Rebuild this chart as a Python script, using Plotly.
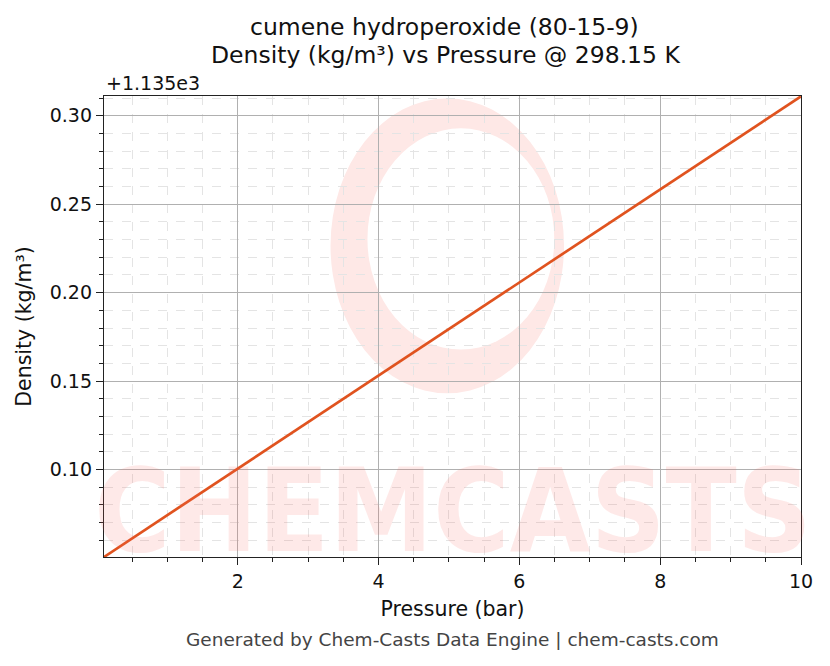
import plotly.graph_objects as go

# datos (densidad en kg/m3)
pressure_bar = [0.1, 2, 4, 6, 8, 10]
density = [1135.0505, 1135.1005, 1135.1530, 1135.2055, 1135.2580, 1135.3110]
offset = 1135.0
y_ticks = [0.10, 0.15, 0.20, 0.25, 0.30]
x_ticks = [2, 4, 6, 8, 10]

dens_rel = [d - offset for d in density]

fig = go.Figure()

# marca de agua (logo en forma de anillo + texto)
fig.add_shape(type="circle", xref="paper", yref="paper",
              x0=0.325, x1=0.66, y0=0.355, y1=0.995,
              line=dict(width=0), fillcolor="#fee8e6", layer="below")
fig.add_shape(type="circle", xref="paper", yref="paper",
              x0=0.378, x1=0.646, y0=0.45, y1=0.93,
              line=dict(width=0), fillcolor="white", layer="below")
fig.add_annotation(text="<b>CHEMCASTS</b>", xref="paper", yref="paper",
                   x=0.5, y=-0.05, showarrow=False,
                   font=dict(family="DejaVu Sans Condensed, DejaVu Sans", size=116,
                             color="rgba(250,100,90,0.14)"))

fig.add_trace(go.Scatter(
    x=pressure_bar,
    y=dens_rel,
    mode='lines',
    line=dict(color='#e0531f', width=2.7),
    showlegend=False
))

grid_minor = dict(showgrid=True, gridcolor='#e4e4e4', griddash='dash', gridwidth=0.5,
                  ticks='outside', ticklen=4, tickwidth=1.2, tickcolor='#222')

fig.update_layout(
    width=822, height=658,
    paper_bgcolor='white', plot_bgcolor='white',
    margin=dict(l=96, r=29, t=88, b=109),
    font=dict(family='DejaVu Sans', size=19, color='#111'),
    xaxis=dict(
        range=[0.1, 10], tickvals=x_ticks, ticks='outside', ticklen=7, tickwidth=1.3,
        tickcolor='#222', tickfont=dict(size=19),
        showline=True, linecolor='#222', linewidth=1.4, mirror=True,
        showgrid=True, gridcolor='#b0b0b0', gridwidth=0.8, zeroline=False,
        title=dict(text='Pressure (bar)', standoff=10, font=dict(size=20.5)),
        minor=dict(dtick=0.5, tick0=0, **grid_minor),
    ),
    yaxis=dict(
        range=[0.0505, 0.3112], tickvals=y_ticks, tickformat='.2f', ticks='outside', ticklen=7,
        tickwidth=1.3, tickcolor='#222', tickfont=dict(size=19),
        showline=True, linecolor='#222', linewidth=1.4, mirror=True,
        showgrid=True, gridcolor='#b0b0b0', gridwidth=0.8, zeroline=False,
        title=dict(text='Density (kg/m³)', standoff=12, font=dict(size=20.5)),
        minor=dict(dtick=0.01, tick0=0, **grid_minor),
    ),
)

# titulo en dos lineas
fig.add_annotation(text='cumene hydroperoxide (80-15-9)', xref='paper', yref='paper',
                   x=0.488, y=1.15, xanchor='center', yanchor='middle', showarrow=False,
                   font=dict(size=23.5))
fig.add_annotation(text='Density (kg/m³) vs Pressure @ 298.15 K', xref='paper', yref='paper',
                   x=0.49, y=1.089, xanchor='center', yanchor='middle', showarrow=False,
                   font=dict(size=23.5))

fig.add_annotation(text='+1.135e3', xref='paper', yref='paper', x=0, y=1,
                   xanchor='left', yanchor='bottom', showarrow=False,
                   font=dict(size=19), xshift=0, yshift=0)
fig.add_annotation(text='Generated by Chem-Casts Data Engine | chem-casts.com',
                   xref='paper', yref='paper', x=0.5, y=-0.18, xanchor='center', yanchor='middle',
                   showarrow=False, font=dict(size=18.5, color='#444'))

fig.write_html("out.html")
